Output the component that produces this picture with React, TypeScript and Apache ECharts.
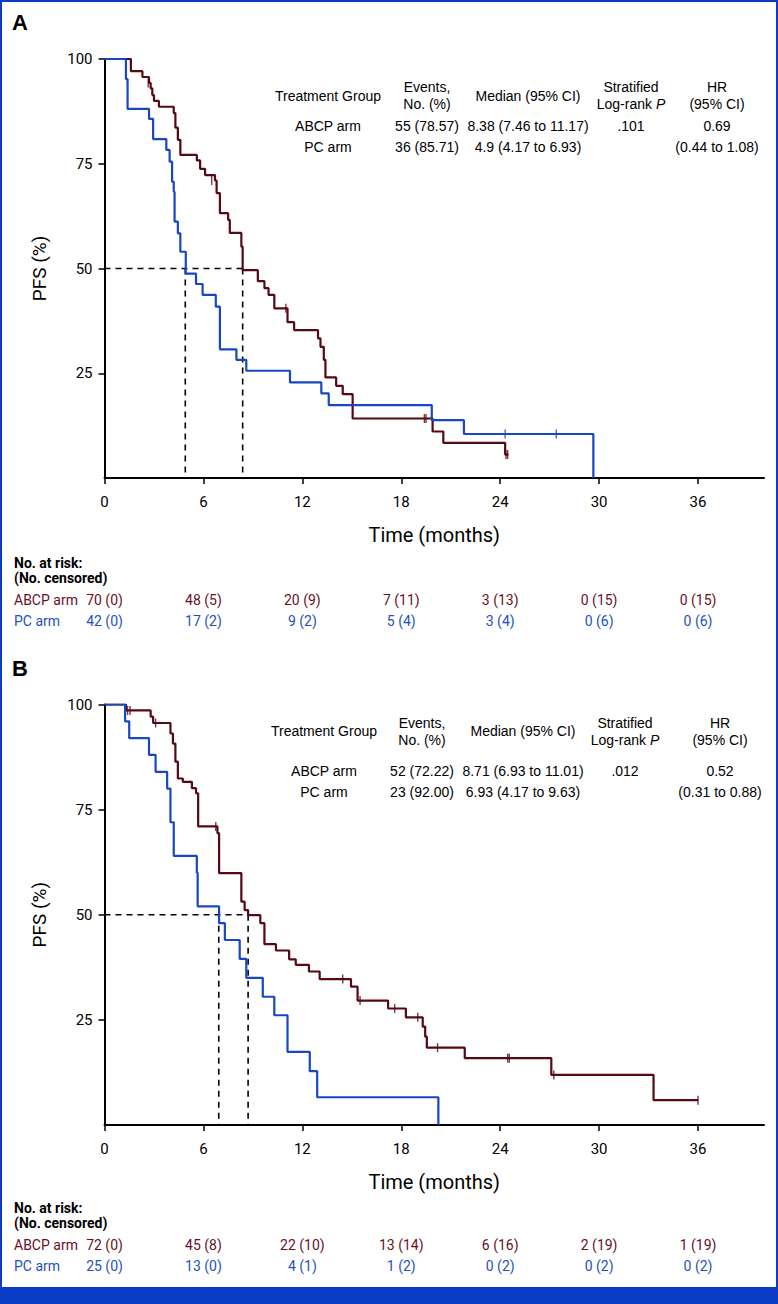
import React, { useEffect, useRef } from "react";
import * as echarts from "echarts";

// ---------- Panel A data ----------
const abcpA_t = [0, 1.6, 2.3, 2.7, 2.8, 2.9, 3.0, 3.3, 4.2, 4.3, 4.45, 4.6, 5.6, 5.8, 6.1, 6.7, 6.8, 7.0, 7.5, 7.6, 8.3, 8.38, 9.3, 9.7, 9.95, 10.3, 11.1, 11.5, 12.95, 13.1, 13.3, 13.4, 14.05, 14.45, 15.05, 19.9, 20.55, 24.3, 24.5];
const abcpA_s = [100, 97.1, 95.7, 94.3, 93.0, 91.4, 90.0, 88.6, 87.1, 83.6, 80.7, 77.1, 75.8, 73.8, 72.3, 71.0, 68.0, 63.2, 61.6, 58.5, 55.2, 49.6, 47.0, 45.3, 43.7, 40.5, 37.2, 35.3, 33.3, 31.3, 28.2, 24.0, 22.0, 20.0, 14.2, 11.1, 8.4, 5.6, 5.6];
const abcpA_ct = [2.65, 6.5, 11.0, 19.4, 19.5, 24.35, 24.45];
const abcpA_cs = [94.3, 71.0, 40.5, 14.2, 14.2, 5.6, 5.6];

const pcA_t = [0, 1.3, 1.4, 2.7, 2.95, 3.75, 3.95, 4.1, 4.2, 4.25, 4.45, 4.6, 4.93, 5.55, 5.95, 6.75, 7.0, 8.0, 8.6, 11.25, 13.15, 13.6, 19.85, 21.8, 29.65, 29.65];
const pcA_s = [100, 95.2, 88.1, 85.7, 80.9, 78.3, 75.5, 70.7, 68.3, 61.2, 58.4, 54.0, 48.8, 46.3, 43.7, 40.9, 30.7, 28.2, 25.6, 22.8, 20.2, 17.4, 13.8, 10.5, 0, 0];
const pcA_ct = [24.3, 27.4];
const pcA_cs = [10.5, 10.5];

const medianA = [4.9, 8.38];

// ---------- Panel B data ----------
const abcpB_t = [0, 1.3, 2.8, 2.95, 4.0, 4.15, 4.3, 4.45, 4.75, 5.3, 5.55, 5.68, 6.85, 6.95, 8.3, 8.5, 8.71, 9.45, 9.7, 10.4, 11.2, 11.6, 12.4, 13.05, 14.95, 15.35, 17.2, 18.28, 19.3, 19.45, 19.55, 21.85, 27.1, 33.3, 36.0];
const abcpB_s = [100, 98.6, 97.1, 95.6, 93.1, 90.7, 86.4, 82.4, 81.6, 80.1, 78.9, 71.0, 69.4, 59.9, 53.1, 51.1, 49.9, 48.0, 43.0, 41.5, 39.4, 38.1, 36.5, 34.7, 32.9, 29.6, 27.7, 25.6, 23.4, 21.0, 18.4, 15.9, 11.9, 5.9, 5.9];
const abcpB_ct = [1.4, 1.55, 3.1, 6.75, 14.45, 15.5, 17.6, 19.0, 20.2, 24.45, 24.55, 27.25, 36.0];
const abcpB_cs = [98.6, 98.6, 95.6, 71.0, 34.7, 29.6, 27.7, 25.6, 18.4, 15.9, 15.9, 11.9, 5.9];

const pcB_t = [0, 1.25, 1.5, 2.7, 3.1, 3.8, 4.0, 4.2, 5.6, 5.65, 6.95, 7.3, 8.2, 8.6, 9.6, 10.3, 11.1, 12.45, 12.9, 20.25, 20.25];
const pcB_s = [100, 96.0, 92.0, 88.0, 84.0, 80.0, 72.0, 64.0, 60.0, 52.0, 48.0, 44.0, 39.5, 35.0, 30.5, 26.1, 17.4, 12.8, 6.6, 0, 0];
const pcB_ct: number[] = [];
const pcB_cs: number[] = [];

const medianB = [6.93, 8.71];

// ---------- axes / tables ----------
const xTicks = [0, 6, 12, 18, 24, 30, 36];
const yTicks = [25, 50, 75, 100];

const tableHeaders = ["Treatment Group", "Events,\nNo. (%)", "Median (95% CI)", "Stratified\nLog-rank {i|P}", "HR\n(95% CI)"];
const tableA_abcp = ["ABCP arm", "55 (78.57)", "8.38 (7.46 to 11.17)", ".101", "0.69"];
const tableA_pc = ["PC arm", "36 (85.71)", "4.9 (4.17 to 6.93)", "", "(0.44 to 1.08)"];
const tableB_abcp = ["ABCP arm", "52 (72.22)", "8.71 (6.93 to 11.01)", ".012", "0.52"];
const tableB_pc = ["PC arm", "23 (92.00)", "6.93 (4.17 to 9.63)", "", "(0.31 to 0.88)"];

const riskA_abcp = ["70 (0)", "48 (5)", "20 (9)", "7 (11)", "3 (13)", "0 (15)", "0 (15)"];
const riskA_pc = ["42 (0)", "17 (2)", "9 (2)", "5 (4)", "3 (4)", "0 (6)", "0 (6)"];
const riskB_abcp = ["72 (0)", "45 (8)", "22 (10)", "13 (14)", "6 (16)", "2 (19)", "1 (19)"];
const riskB_pc = ["25 (0)", "13 (0)", "4 (1)", "1 (2)", "0 (2)", "0 (2)", "0 (2)"];

const MAROON = "#560814";
const MAROON_TXT = "#6a0f1f";
const BLUE = "#1747c2";
const BLUE_TXT = "#1f4fc4";
const FRAME = "#0b3cc6";
const NARROW = "Roboto, 'Liberation Sans', sans-serif";
const SANS = "'Liberation Sans', Arial, sans-serif";

const zip = (t: number[], s: number[]) => t.map((v, i) => [v, s[i]]);

export default function App() {
  const ref = useRef<HTMLDivElement>(null);
  useEffect(() => {
    document.body.style.margin = "0";
    const chart = echarts.init(ref.current!, null, { renderer: "svg" });

    const grids = [
      { left: 104.5, width: 659.5, top: 59, height: 419 },
      { left: 104.5, width: 659.5, top: 704.5, height: 420.5 },
    ];

    const xAxisFor = (gi: number) => ({
      type: "value",
      gridIndex: gi,
      min: 0,
      max: 40,
      splitLine: { show: false },
      axisLine: { lineStyle: { color: "#000", width: 2 } },
      axisTick: { show: true, length: 6, customValues: xTicks, lineStyle: { color: "#000", width: 1.5 } },
      axisLabel: { customValues: xTicks, color: "#000", fontSize: 15, fontFamily: NARROW, margin: 16 },
      name: "Time (months)",
      nameLocation: "middle",
      nameGap: 47,
      nameTextStyle: { color: "#000", fontSize: 20, fontFamily: NARROW },
    });
    const yAxisFor = (gi: number) => ({
      type: "value",
      gridIndex: gi,
      min: 0,
      max: 100,
      splitLine: { show: false },
      axisLine: { lineStyle: { color: "#000", width: 2 } },
      axisTick: { show: true, length: 6, customValues: yTicks, lineStyle: { color: "#000", width: 1.5 } },
      axisLabel: { customValues: yTicks, color: "#000", fontSize: 15, fontFamily: NARROW, margin: 12 },
      name: "PFS (%)",
      nameLocation: "middle",
      nameGap: 56,
      nameTextStyle: { color: "#000", fontSize: 19, fontFamily: NARROW },
    });

    const stepSeries = (gi: number, t: number[], s: number[], color: string) => ({
      type: "line",
      xAxisIndex: gi,
      yAxisIndex: gi,
      step: "end",
      data: zip(t, s),
      showSymbol: false,
      lineStyle: { color, width: 2.2 },
      z: 3,
    });
    const censorSeries = (gi: number, t: number[], s: number[], color: string) => ({
      type: "scatter",
      xAxisIndex: gi,
      yAxisIndex: gi,
      data: zip(t, s),
      symbol: "rect",
      symbolSize: [1.4, 9],
      itemStyle: { color },
      z: 4,
    });
    const medianSeries = (gi: number, med: number[]) => [
      {
        type: "line",
        xAxisIndex: gi,
        yAxisIndex: gi,
        data: [[0, 50], [med[1], 50]],
        showSymbol: false,
        lineStyle: { color: "#000", width: 1.6, type: [6, 5] },
        z: 2,
      },
      ...med.map((m) => ({
        type: "line",
        xAxisIndex: gi,
        yAxisIndex: gi,
        data: [[m, 50], [m, 0]],
        showSymbol: false,
        lineStyle: { color: "#000", width: 1.6, type: [6, 5] },
        z: 2,
      })),
    ];

    chart.setOption({
      animation: false,
      backgroundColor: "#fff",
      grid: grids,
      xAxis: [xAxisFor(0), xAxisFor(1)],
      yAxis: [yAxisFor(0), yAxisFor(1)],
      series: [
        ...medianSeries(0, medianA),
        stepSeries(0, abcpA_t, abcpA_s, MAROON),
        stepSeries(0, pcA_t, pcA_s, BLUE),
        censorSeries(0, abcpA_ct, abcpA_cs, MAROON),
        censorSeries(0, pcA_ct, pcA_cs, BLUE),
        ...medianSeries(1, medianB),
        stepSeries(1, abcpB_t, abcpB_s, MAROON),
        stepSeries(1, pcB_t, pcB_s, BLUE),
        censorSeries(1, abcpB_ct, abcpB_cs, MAROON),
        censorSeries(1, pcB_ct, pcB_cs, BLUE),
      ],
    });

    const g: any[] = [];
    const txt = (x: number, y: number, text: string, opts: any = {}) =>
      g.push({
        type: "text",
        x,
        y,
        style: {
          text,
          fill: opts.fill || "#000",
          fontSize: opts.fontSize || 14,
          fontFamily: opts.fontFamily || SANS,
          fontWeight: opts.fontWeight || "normal",
          align: opts.align || "center",
          verticalAlign: "middle",
          lineHeight: opts.lineHeight || 17,
          rich: opts.rich,
        },
        z: 10,
      });

    // Panel letters
    txt(12, 22, "A", { fontSize: 22, fontWeight: "bold", align: "left" });
    txt(12, 668, "B", { fontSize: 22, fontWeight: "bold", align: "left" });

    // Summary tables
    const colXA = [328, 427, 528, 631, 717];
    const colXB = [324, 422, 523, 625, 720];
    const rich = { i: { fontStyle: "italic", fontSize: 14, fontFamily: SANS } };
    const table = (colX: number[], headY: number, row1Y: number, row2Y: number, r1: string[], r2: string[]) => {
      tableHeaders.forEach((h, i) => txt(colX[i], headY, h, { rich, lineHeight: 17 }));
      r1.forEach((v, i) => txt(colX[i], row1Y, v));
      r2.forEach((v, i) => txt(colX[i], row2Y, v));
    };
    table(colXA, 95.5, 126, 147, tableA_abcp, tableA_pc);
    table(colXB, 731, 771, 792, tableB_abcp, tableB_pc);

    // At-risk tables
    const riskRows = (gi: number, y0: number, r1: string[], r2: string[]) => {
      txt(14, y0, "No. at risk:", { align: "left", fontWeight: "bold", fontFamily: NARROW, fontSize: 14 });
      txt(14, y0 + 15, "(No. censored)", { align: "left", fontWeight: "bold", fontFamily: NARROW, fontSize: 14 });
      txt(14, y0 + 37, "ABCP arm", { align: "left", fontFamily: NARROW, fontSize: 14, fill: MAROON_TXT });
      txt(14, y0 + 58, "PC arm", { align: "left", fontFamily: NARROW, fontSize: 14, fill: BLUE_TXT });
      xTicks.forEach((t, i) => {
        const px = chart.convertToPixel({ xAxisIndex: gi }, t) as number;
        txt(px, y0 + 37, r1[i], { fontFamily: NARROW, fontSize: 14, fill: MAROON_TXT });
        txt(px, y0 + 58, r2[i], { fontFamily: NARROW, fontSize: 14, fill: BLUE_TXT });
      });
    };
    riskRows(0, 563, riskA_abcp, riskA_pc);
    riskRows(1, 1208, riskB_abcp, riskB_pc);

    // Frame
    g.push({ type: "rect", shape: { x: 1, y: 1, width: 776, height: 1300 }, style: { fill: "none", stroke: FRAME, lineWidth: 2 }, z: 20 });
    g.push({ type: "rect", shape: { x: 0, y: 1287, width: 778, height: 17 }, style: { fill: FRAME }, z: 20 });

    chart.setOption({ graphic: g });

    return () => chart.dispose();
  }, []);
  return <div ref={ref} style={{ position: "absolute", left: 0, top: 0, width: 778, height: 1304 }} />;
}
